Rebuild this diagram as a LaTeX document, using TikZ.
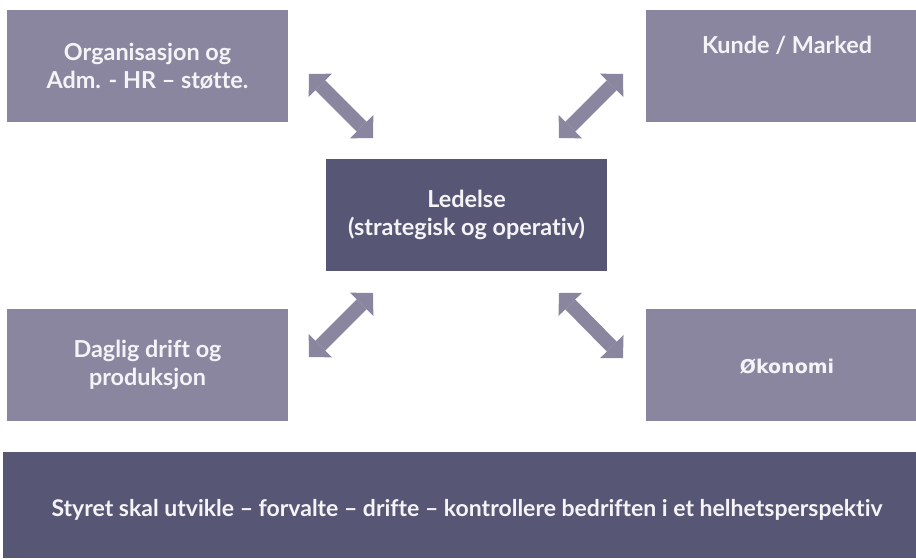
\documentclass[tikz,border=0pt]{standalone}
\usepackage{fontspec}
\setmainfont{Lato}[Ligatures=NoCommon]
\newfontfamily\okofont{DejaVu Sans Bold}
\usetikzlibrary{arrows.meta, calc, positioning}
\definecolor{boxlight}{HTML}{8A86A0}
\definecolor{boxdark}{HTML}{585675}
\definecolor{boxtxt}{HTML}{F4F4F6}

\tikzset{
  lightbox/.style={rectangle, fill=boxlight, minimum width=281pt, minimum height=112pt, inner sep=0pt},
  darkbox/.style={rectangle, fill=boxdark, minimum width=281pt, minimum height=112pt, inner sep=0pt},
  boxtext/.style={text=boxtxt, font=\bfseries\fontsize{23.4}{28}\selectfont, align=center},
  dblarrow/.style={draw=boxlight, line width=14pt,
    {Triangle[length=16pt, width=33pt, line width=0pt]}-{Triangle[length=16pt, width=33pt, line width=0pt]}}
}

\begin{document}
\begin{tikzpicture}[x=1pt, y=-1pt]
  \useasboundingbox (0,0) rectangle (916,558);
  % boxes
  \node[lightbox, boxtext] (org) at (147.5,66) {Organisasjon og\\Adm. - HR -- støtte.};
  \node[lightbox, minimum width=270pt] (kunde) at (781,66) {};
  \node[boxtext] (kundetxt) at ([xshift=6pt, yshift=-36pt]kunde.north) {Kunde / Marked};
  \node[darkbox, boxtext] (ledelse) at (466.5,215) {Ledelse\\(strategisk og operativ)};
  \node[lightbox, boxtext] (drift) at (147.5,365) {Daglig drift og\\produksjon};
  \node[lightbox, minimum width=270pt] (okonomi) at (781,365) {};
  \node[text=boxtxt] (okotxt) at ([xshift=6pt, yshift=-2pt]okonomi.center) {\okofont\fontsize{19}{24}\selectfont Økonomi};
  % board bar
  \node[darkbox, minimum width=913pt, minimum height=106pt] (styret) at (459.5,505) {};
  \node[boxtext, font=\bfseries\fontsize{23}{28}\selectfont] (styrettxt) at (467,510) {Styret skal utvikle -- forvalte -- drifte -- kontrollere bedriften i et helhetsperspektiv};
  % arrow ends
  \coordinate (orgend) at (309,74);
  \coordinate (lednw) at (373,138);
  \coordinate (kundeend) at (623,74);
  \coordinate (ledne) at (559,138);
  \coordinate (ledsw) at (373,293);
  \coordinate (driftend) at (309,357);
  \coordinate (ledse) at (559,293);
  \coordinate (okoend) at (623,358);
  % arrows
  \draw[dblarrow] (orgend) -- (lednw);
  \draw[dblarrow] (kundeend) -- (ledne);
  \draw[dblarrow] (ledsw) -- (driftend);
  \draw[dblarrow] (ledse) -- (okoend);
\end{tikzpicture}
\end{document}
